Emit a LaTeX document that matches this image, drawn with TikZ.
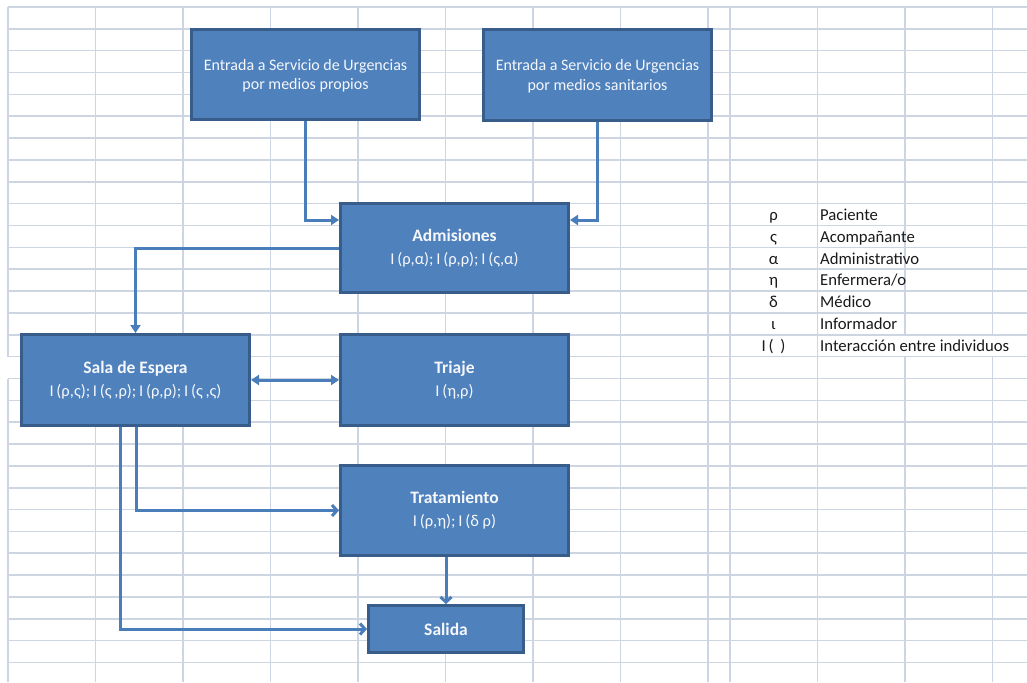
\documentclass[tikz,border=0pt]{standalone}
\usepackage{fontspec}
\setmainfont{Carlito}
\usetikzlibrary{arrows.meta}
\definecolor{gridc}{HTML}{CDD5E3}
\definecolor{boxfill}{HTML}{4F81BD}
\definecolor{boxline}{HTML}{385D8A}
\definecolor{flowc}{HTML}{4A7EBB}
\definecolor{legtext}{HTML}{1A1A1A}
\begin{document}
\begin{tikzpicture}[x=1pt,y=-1pt,
  gridline/.style={draw=gridc, line width=1.6pt},
  box/.style={rectangle, fill=boxfill, draw=boxline, line width=3pt,
    text=white!94!boxfill, align=center, inner sep=0pt},
  entrybox/.style={box, font=\fontsize{16}{19.5}\selectfont},
  titled/.style={box, font=\fontsize{17.5}{22}\selectfont\bfseries},
  flow/.style={draw=flowc, line width=3pt},
  solidtip/.style={flow, -{Triangle[length=8pt,width=10pt]}},
  bothtip/.style={flow, {Triangle[length=8pt,width=10pt]}-{Triangle[length=8pt,width=10pt]}},
  barbtip/.style={flow, -{Straight Barb[length=5pt,width=11pt]}},
  legsym/.style={anchor=base, text=legtext, font=\fontsize{16.7}{16.7}\selectfont, inner sep=0pt},
  legname/.style={anchor=base west, text=legtext, font=\fontsize{16.7}{16.7}\selectfont, inner sep=0pt}
]
\newcommand{\subline}[1]{\\[1pt]{\fontsize{16.5}{19}\mdseries\selectfont #1}}
\useasboundingbox (0,0) rectangle (1027,682);
\fill[white] (0,0) rectangle (1027,682);

% worksheet grid
\foreach \k in {0,...,30}
  \draw[gridline] (8,{7+21.85*\k}) -- (1027,{7+21.85*\k});
\draw[gridline] (8,7) -- (8,357.3);
\draw[gridline] (8,378.5) -- (8,682);
\foreach \c in {95.5,183,270.5,358,445.5,533,620.5,708,730,817.5,905,992.5}
  \draw[gridline] (\c,7) -- (\c,682);
% cells under the overflowing legend text
\fill[white] (903,336.2) rectangle (1027,356);

% process boxes
\node[entrybox, minimum width=228pt, minimum height=90pt] (e1) at (305.5,74.5)
  {\rule{0pt}{14pt}Entrada a Servicio de Urgencias\\por medios propios};
\node[entrybox, minimum width=228pt, minimum height=91pt] (e2) at (597.5,75)
  {\rule{0pt}{14pt}Entrada a Servicio de Urgencias\\por medios sanitarios};
\node[titled, minimum width=228pt, minimum height=89pt] (adm) at (454.5,248)
  {Admisiones\subline{I\,(ρ,α);\,I\,(ρ,ρ);\,I\,(ς,α)}};
\node[titled, minimum width=228pt, minimum height=91pt] (sala) at (135.5,380)
  {Sala de Espera\subline{I\,(ρ,ς);\,I\,(ς\,,ρ);\,I\,(ρ,ρ);\,I\,(ς\,,ς)}};
\node[titled, minimum width=228pt, minimum height=91pt] (tri) at (454.5,380)
  {Triaje\subline{I\,(η,ρ)}};
\node[titled, minimum width=228pt, minimum height=90pt] (tra) at (454.5,510.5)
  {Tratamiento\subline{I\,(ρ,η);\,I\,(δ ρ)}};
\node[titled, minimum width=155pt, minimum height=47pt] (sal) at (446,629)
  {Salida};

% flow connectors
\draw[solidtip] (e1.south) |- ([yshift=28pt]adm.west);
\draw[solidtip] (e2.south) |- ([yshift=28pt]adm.east);
\draw[solidtip] (adm.west) -| (sala.north);
\draw[bothtip] (sala.east) -- (tri.west);
\draw[barbtip] ([xshift=0.5pt]sala.south) |- (tra.west);
\draw[barbtip] ([xshift=-15pt]sala.south) |- (sal.west);
\draw[barbtip] (tra.south -| sal.north) -- (sal.north);

% legend, one row per worksheet line
\foreach \s/\t [count=\i from 0] in {ρ/Paciente, ς/Acompañante, α/Administrativo,
    η/Enfermera\slash o, δ/Médico, ι/Informador, I\,(\ \,)/Interacción entre individuos} {
  \node[legsym] (sym\i) at (773.5,{220.3+21.85*\i}) {\s};
  \node[legname] (name\i) at (820,{220.3+21.85*\i}) {\t};
}
\end{tikzpicture}
\end{document}
